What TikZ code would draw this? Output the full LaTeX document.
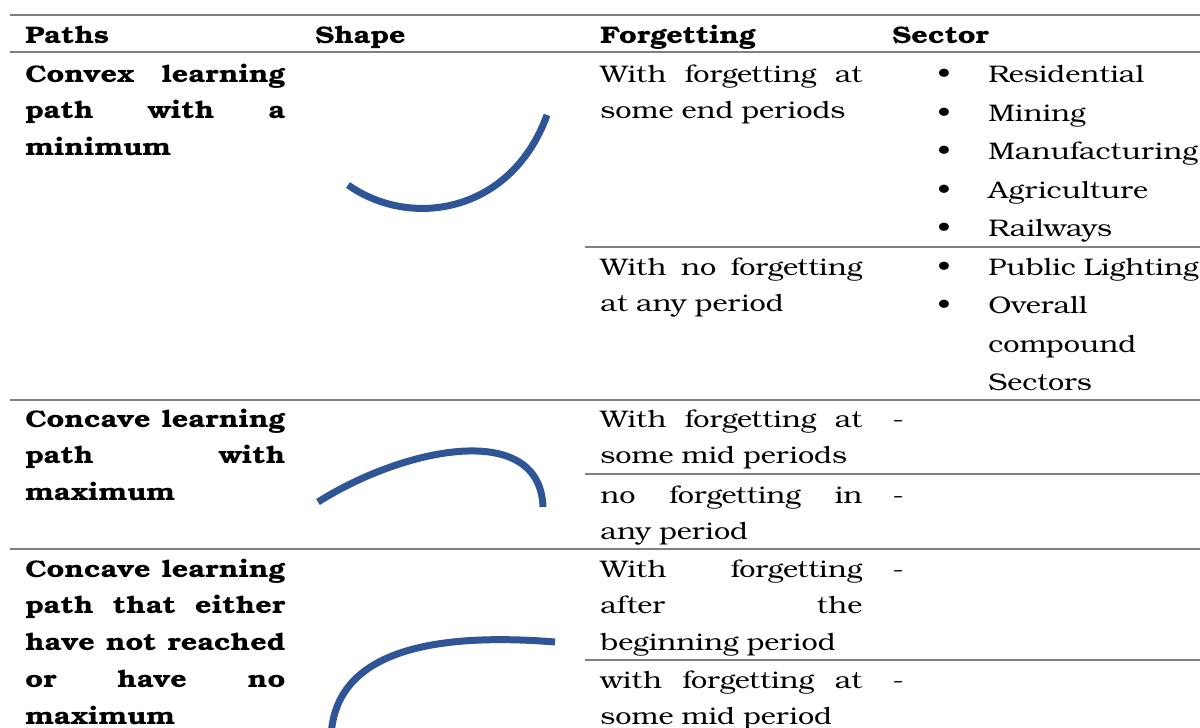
\documentclass[tikz,border=0pt]{standalone}
\usepackage{fontspec}
\setmainfont{texgyrebonum}[Extension=.otf,UprightFont=*-regular,BoldFont=*-bold,FakeStretch=1.2]
\usepackage{tikz}
\usetikzlibrary{positioning}
\definecolor{pathblue}{RGB}{47,85,151}
\definecolor{rulegray}{RGB}{128,128,128}
\newcommand{\fillline}[2][130pt]{\makebox[#1][s]{#2}}

\begin{document}
\begin{tikzpicture}[x=0.5pt,y=-0.5pt,
	text node/.style={anchor=base west,inner sep=0pt,font=\fontsize{12}{18.4}\selectfont},
	head node/.style={text node,font=\fontsize{12}{18.4}\selectfont\bfseries},
	path node/.style={head node,text width=130pt,align=left},
	forget node/.style={text node,text width=131pt,align=left},
	sector node/.style={text node,text width=120pt,align=left,font=\fontsize{12}{19.25}\selectfont},
	bullet node/.style={sector node,anchor=base,text width=10pt,align=center},
	grid line/.style={draw=rulegray,line width=1pt},
	learn curve/.style={draw=pathblue,line width=3.5pt}]
				\useasboundingbox (0,0) rectangle (1200,728);
				\clip (0,0) rectangle (1200,728);
				
				% rules
				\foreach \y in {15,52,400,549}
				\draw[grid line] (10,\y) -- (1200,\y);
				\foreach \y in {247,474,660}
				\draw[grid line] (585,\y) -- (1200,\y);
				
				% header
				\node[head node] (h1) at (25,43) {Paths};
				\node[head node] (h2) at (315,43) {Shape};
				\node[head node] (h3) at (600,43) {Forgetting};
				\node[head node] (h4) at (892,43) {Sector};
				
				% paths
				\node[path node] (p1) at (25,82) {\fillline{Convex\hfill learning}\\ \fillline{path\hfill with\hfill a}\\ minimum};
				\node[path node] (p2) at (25,427) {\fillline{Concave\hfill learning}\\ \fillline{path\hfill with}\\ maximum};
				\node[path node] (p3) at (25,577) {\fillline{Concave\hfill learning}\\ \fillline{path\hfill that\hfill either}\\ \fillline{have\hfill not\hfill reached}\\ \fillline{or\hfill have\hfill no}\\ maximum};
				
				% shapes
				\draw[learn curve] (348,185) .. controls (412,230) and (512,212) .. (547,115);
				\draw[learn curve] (318,502) .. controls (405,447) and (540,420) .. (543,507);
				\draw[learn curve] (555,642) .. controls (430,632) and (332,652) .. (331,740);
				
				% forgetting
				\node[forget node] (f1) at (600,82) {\fillline[131pt]{With\hfill forgetting\hfill at}\\ some end periods};
				\node[forget node] (f2) at (600,275) {\fillline[131pt]{With\hfill no\hfill forgetting}\\ at any period};
				\node[forget node] (f3) at (600,427) {\fillline[131pt]{With\hfill forgetting\hfill at}\\ some mid periods};
				\node[forget node] (f4) at (600,503) {\fillline[131pt]{no\hfill forgetting\hfill in}\\ any period};
				\node[forget node] (f5) at (600,577) {\fillline[131pt]{With\hfill forgetting}\\ \fillline[131pt]{after\hfill the}\\ beginning period};
				\node[forget node] (f6) at (600,688) {\fillline[131pt]{with\hfill forgetting\hfill at}\\ some mid period};
				
				% sectors
				\node[bullet node] (b1) at (944,83) {\textbullet\\ \textbullet\\ \textbullet\\ \textbullet\\ \textbullet};
				\node[sector node] (s1) at (988,83) {Residential\\ Mining\\ Manufacturing\\ Agriculture\\ Railways};
				\node[bullet node] (b2) at (944,275) {\textbullet\\ \textbullet};
				\node[sector node] (s2) at (988,275) {Public Lighting\\ Overall\\ compound\\ Sectors};
				\node[text node] (d1) at (892,427) {-};
				\node[text node] (d2) at (892,503) {-};
				\node[text node] (d3) at (892,577) {-};
				\node[text node] (d4) at (892,688) {-};
				
\end{tikzpicture}
\end{document}
